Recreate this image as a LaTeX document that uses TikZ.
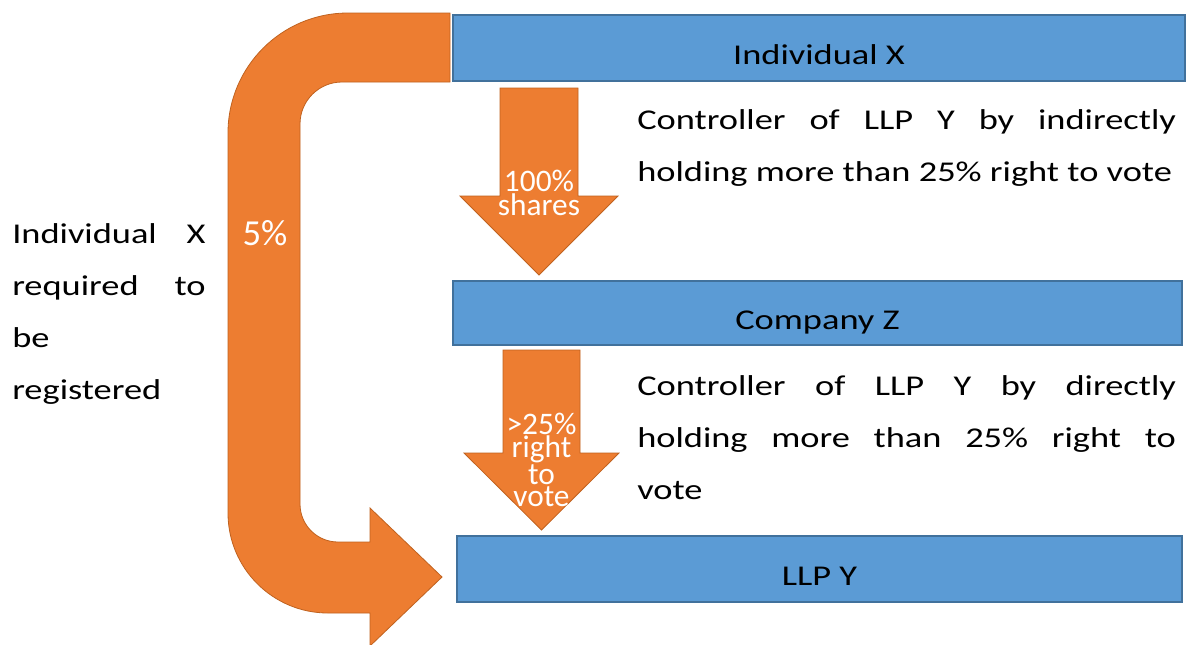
\documentclass[tikz,border=0pt]{standalone}
\usepackage{fontspec}
\setmainfont{Carlito}[FakeStretch=1.27]
\newfontfamily\lblfont{Carlito}
\usetikzlibrary{positioning}
\definecolor{boxblue}{HTML}{5B9BD5}
\definecolor{boxline}{HTML}{41719C}
\definecolor{arroworange}{HTML}{ED7D31}
\definecolor{arrowline}{HTML}{C0621F}

\begin{document}
\begin{tikzpicture}[
        x=0.75pt, y=-0.75pt,
        holder/.style={rectangle, draw=boxline, fill=boxblue, line width=1.5pt, inner sep=0pt, text height=24pt, text depth=0pt, font=\fontsize{21.5}{39}\selectfont},
        blockarrow/.style={fill=arroworange, draw=arrowline, line width=0.6pt, line join=miter},
        bodytext/.style={inner sep=0pt, align=justify, font=\fontsize{21.5}{39}\selectfont},
        arrowlabel/.style={inner sep=0pt, align=center, text=white, font=\lblfont\fontsize{23.5}{16.5}\selectfont},
    ]
        \useasboundingbox[fill=white] (0,0) rectangle (1188,644);
        \draw[blockarrow] (450,13) -- (348,13) arc[start angle=-90, end angle=-180, radius=120] -- (228,513) arc[start angle=180, end angle=90, radius=100] -- (370,613) -- (370,646) -- (442,577) -- (370,508) -- (370,542) -- (338,542) arc[start angle=90, end angle=180, radius=38] -- (300,124) arc[start angle=180, end angle=270, radius=42] -- (450,82) -- cycle;
        \node[arrowlabel, font=\lblfont\fontsize{27.5}{30}\selectfont] (five) at (265,233) {5\%};

        \node[holder, minimum width=549pt, minimum height=49.5pt] (INDX) at (819,48) {Individual X};
        \node[holder, minimum width=546.75pt, minimum height=48pt] (COMPZ) at (817.5,313) {Company Z};
        \node[holder, minimum width=543.75pt, minimum height=49.5pt] (LLPY) at (819.5,569) {LLP Y};

        \draw[blockarrow] (500,88) -- (578,88) -- (578,196) -- (618,196) -- (539,275) -- (460,196) -- (500,196) -- cycle;
        \node[arrowlabel] (shares) at (539,193) {100\%\\shares};
        \draw[blockarrow] (503,350) -- (580,350) -- (580,453) -- (619,453) -- (541.5,530) -- (464,453) -- (503,453) -- cycle;
        \node[arrowlabel] (vote) at (541.5,460) {>25\%\\right\\to\\vote};

        \node[bodytext, text width=145pt, anchor=base west] (reqtext) at (12,243) {Individual X\linebreak required to\linebreak be\linebreak registered};
        \node[bodytext, text width=404pt, anchor=base west] (indtext) at (637,129) {Controller of LLP Y by indirectly\linebreak holding more than 25\% right to vote};
        \node[bodytext, text width=404pt, anchor=base west] (dirtext) at (637,395) {Controller of LLP Y by directly\linebreak holding more than 25\% right to\linebreak vote};
    \end{tikzpicture}
\end{document}
